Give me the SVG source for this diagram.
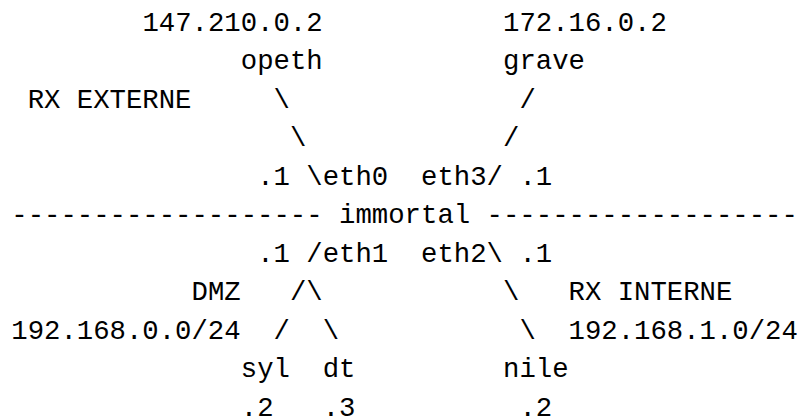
<svg xmlns="http://www.w3.org/2000/svg" width="800" height="419" viewBox="0 0 800 419">
<style>
text{font-family:"Liberation Mono","DejaVu Sans Mono",monospace;font-size:27.3px;fill:#000;white-space:pre}
</style>
<rect width="800" height="419" fill="#fff"/>
<g id="connectors">
<text x="273.54" y="107.5">\</text>
<text x="519.39" y="107.5">/</text>
<text x="289.93" y="146">\</text>
<text x="503" y="146">/</text>
<text x="306.32" y="184.5">\</text>
<text x="486.61" y="184.5">/</text>
<text x="11.3" y="223">-------------------</text>
<text x="486.61" y="223">-------------------</text>
<text x="306.32" y="261.5">/</text>
<text x="486.61" y="261.5">\</text>
<text x="289.93" y="300">/\</text>
<text x="503" y="300">\</text>
<text x="273.54" y="338.5">/</text>
<text x="322.71" y="338.5">\</text>
<text x="519.39" y="338.5">\</text>
</g>
<g id="opeth">
<text x="142.42" y="30.5">147.210.0.2</text>
<text x="240.76" y="69">opeth</text>
</g>
<g id="grave">
<text x="503" y="30.5">172.16.0.2</text>
<text x="503" y="69">grave</text>
</g>
<g id="immortal">
<text x="339.1" y="223">immortal</text>
<text x="257.15" y="184.5">.1</text>
<text x="322.71" y="184.5">eth0</text>
<text x="421.05" y="184.5">eth3</text>
<text x="519.39" y="184.5">.1</text>
<text x="257.15" y="261.5">.1</text>
<text x="322.71" y="261.5">eth1</text>
<text x="421.05" y="261.5">eth2</text>
<text x="519.39" y="261.5">.1</text>
</g>
<g id="rx-externe">
<text x="27.69" y="107.5">RX EXTERNE</text>
</g>
<g id="dmz">
<text x="191.59" y="300">DMZ</text>
<text x="11.3" y="338.5">192.168.0.0/24</text>
</g>
<g id="rx-interne">
<text x="568.56" y="300">RX INTERNE</text>
<text x="568.56" y="338.5">192.168.1.0/24</text>
</g>
<g id="syl">
<text x="240.76" y="377">syl</text>
<text x="240.76" y="415.5">.2</text>
</g>
<g id="dt">
<text x="322.71" y="377">dt</text>
<text x="322.71" y="415.5">.3</text>
</g>
<g id="nile">
<text x="503" y="377">nile</text>
<text x="519.39" y="415.5">.2</text>
</g>
</svg>
